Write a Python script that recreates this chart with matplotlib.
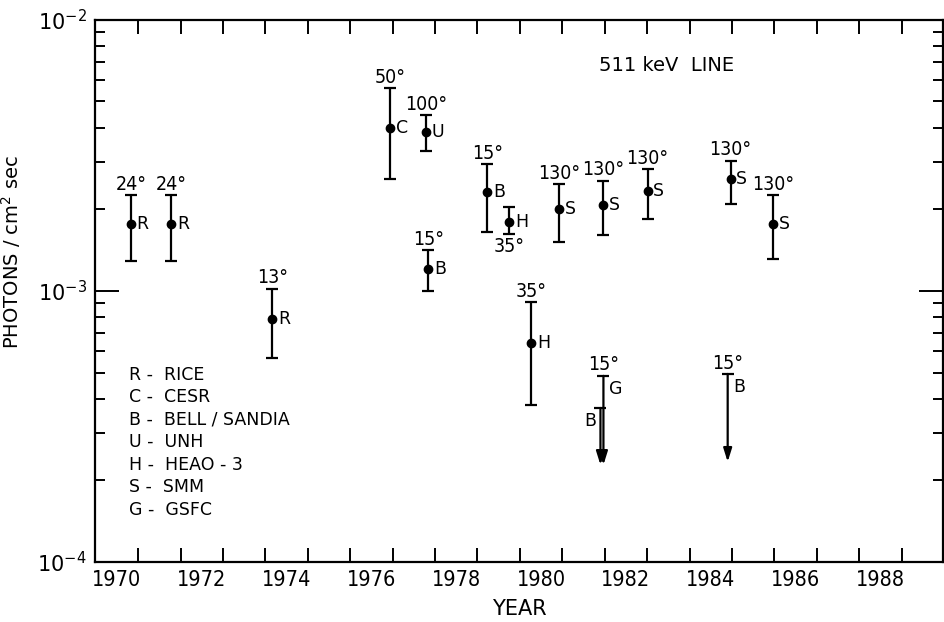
import numpy as np
import matplotlib.pyplot as plt
from matplotlib.ticker import FixedLocator, LogLocator, NullFormatter, FixedFormatter

plt.rcParams['font.family'] = ['DejaVu Sans']

# measured 511 keV line fluxes (photons / cm^2 sec)
years = [1970.33, 1971.28, 1973.66, 1976.44, 1977.29, 1977.34, 1978.73,
         1979.25, 1979.77, 1980.43, 1981.47, 1982.51, 1984.47, 1985.48]
flux = [1.77e-3, 1.77e-3, 7.9e-4, 3.99e-3, 3.87e-3, 1.21e-3, 2.32e-3,
        1.80e-3, 6.4e-4, 2.01e-3, 2.07e-3, 2.34e-3, 2.59e-3, 1.77e-3]
flux_hi = [2.26e-3, 2.26e-3, 1.02e-3, 5.61e-3, 4.46e-3, 1.41e-3, 2.94e-3,
           2.04e-3, 9.1e-4, 2.48e-3, 2.55e-3, 2.82e-3, 3.02e-3, 2.26e-3]
flux_lo = [1.29e-3, 1.29e-3, 5.66e-4, 2.59e-3, 3.29e-3, 1.0e-3, 1.65e-3,
           1.62e-3, 3.79e-4, 1.52e-3, 1.61e-3, 1.85e-3, 2.10e-3, 1.31e-3]
groups = ['R', 'R', 'R', 'C', 'U', 'B', 'B', 'H', 'H', 'S', 'S', 'S', 'S', 'S']
angles = ['24°', '24°', '13°', '50°', '100°', '15°', '15°', '35°', '35°',
          '130°', '130°', '130°', '130°', '130°']

# upper limits
lim_years = [1981.47, 1981.40, 1984.40]
lim_vals = [4.86e-4, 3.70e-4, 4.94e-4]
lim_tip = [2.28e-4, 2.28e-4, 2.34e-4]
lim_groups = ['G', 'B', 'B']
lim_angles = ['15°', '', '15°']

legend_lines = ['R -  RICE', 'C -  CESR', 'B -  BELL / SANDIA', 'U -  UNH',
                'H -  HEAO - 3', 'S -  SMM', 'G -  GSFC']

fig = plt.figure(figsize=(9.45, 6.22), dpi=100)
ax = fig.add_axes([0.1005, 0.0965, 0.8975, 0.8715])
ax.set_yscale('log')
ax.set_xlim(1969.48, 1989.48)
ax.set_ylim(1e-4, 1e-2)

fs_lab = 12.5
angle_kw = dict(fontsize=14, fontstretch='condensed')

y = np.array(flux)
yerr = [y - np.array(flux_lo), np.array(flux_hi) - y]
ax.errorbar(years, flux, yerr=yerr, fmt='o', color='black', ms=6,
            elinewidth=1.6, capsize=4, capthick=1.6)

for i, (x, v) in enumerate(zip(years, flux)):
    ax.annotate(groups[i], (x, v), xytext=(4, 0), textcoords='offset points',
                ha='left', va='center', fontsize=fs_lab)
    if i == 7:
        ax.annotate(angles[i], (x, flux_lo[i]), xytext=(0, -2),
                    textcoords='offset points', ha='center', va='top',
                    **angle_kw)
    else:
        ax.annotate(angles[i], (x, flux_hi[i]), xytext=(0, 1),
                    textcoords='offset points', ha='center', va='bottom',
                    **angle_kw)

for x, v, t, g, a in zip(lim_years, lim_vals, lim_tip, lim_groups, lim_angles):
    ax.annotate('', xy=(x, t), xytext=(x, v),
                arrowprops=dict(arrowstyle='-|>,head_length=0.8,head_width=0.25',
                                color='black', lw=1.6, shrinkA=0, shrinkB=0))
    ax.plot([x], [v], marker='_', ms=8, mew=1.6, color='black')
    if a:
        ax.annotate(a, (x, v), xytext=(0, 1), textcoords='offset points',
                    ha='center', va='bottom', **angle_kw)
    if x < 1981.45:
        ax.annotate(g, (x, v), xytext=(-3, -3), textcoords='offset points',
                    ha='right', va='top', fontsize=fs_lab)
    else:
        ax.annotate(g, (x, v), xytext=(4, -3), textcoords='offset points',
                    ha='left', va='top', fontsize=fs_lab)

for k, line in enumerate(legend_lines):
    ax.text(0.04, 0.345 - k * 0.0415, line, transform=ax.transAxes,
            fontsize=fs_lab, ha='left', va='center')

ax.text(0.594, 0.915, '511 keV  LINE', transform=ax.transAxes,
        fontsize=14, ha='left', va='center')

# year ticks sit at mid-year, labels at the even years
ax.xaxis.set_major_locator(FixedLocator(np.arange(1970.5, 1989, 1.0)))
ax.xaxis.set_major_formatter(NullFormatter())
label_years = np.arange(1970, 1989, 2)
ax.xaxis.set_minor_locator(FixedLocator(label_years))
ax.xaxis.set_minor_formatter(FixedFormatter([str(v) for v in label_years]))
ax.tick_params(axis='x', which='major', direction='in', length=10, width=1.4,
               top=True, bottom=True)
ax.tick_params(axis='x', which='minor', length=0, pad=6, labelsize=15.5)
for lab in ax.xaxis.get_minorticklabels():
    lab.set_fontstretch('condensed')

ax.yaxis.set_major_locator(LogLocator(base=10))
ax.yaxis.set_minor_locator(LogLocator(base=10, subs=np.arange(2, 10)))
ax.yaxis.set_minor_formatter(NullFormatter())
ax.tick_params(axis='y', which='major', direction='in', length=17, width=1.4,
               left=True, right=True, labelsize=15, pad=6)
ax.tick_params(axis='y', which='minor', direction='in', length=7, width=1.4,
               left=True, right=True)

for s in ax.spines.values():
    s.set_linewidth(1.6)

ax.set_xlabel('YEAR', fontsize=15, labelpad=6)
ax.set_ylabel('PHOTONS / cm$^2$ sec', fontsize=14)
ax.yaxis.set_label_coords(-0.085, 0.572)

fig.savefig('out.png', dpi=100)
